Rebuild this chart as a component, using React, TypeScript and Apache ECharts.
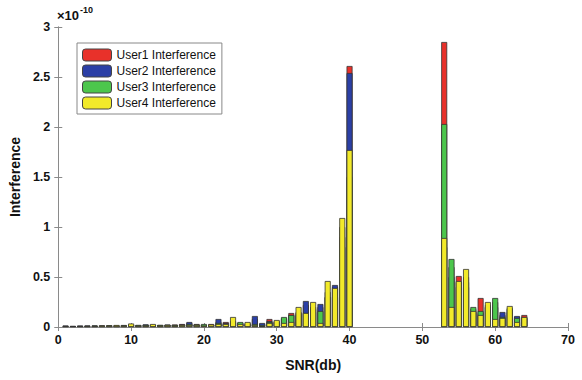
import React, { useEffect, useRef } from "react";
import * as echarts from "echarts";

// SNR (db) positions of the bars
const snr = [
  1, 2, 3, 4, 5, 6, 7, 8, 9, 10, 11, 12, 13, 14, 15, 16, 17, 18, 19, 20,
  21, 22, 23, 24, 25, 26, 27, 28, 29, 30, 31, 32, 33, 34, 35, 36, 37, 38, 39, 40,
  53, 54, 55, 56, 57, 58, 59, 60, 61, 62, 63, 64,
];
// Interference values in units of 1e-10
const user1 = [
  0.01, 0.01, 0.01, 0.012, 0.01, 0.015, 0.012, 0.015, 0.015, 0.02, 0.015, 0.02, 0.02, 0.02, 0.02, 0.025, 0.03, 0.04, 0.03, 0.02,
  0.03, 0.05, 0.05, 0.06, 0.04, 0.03, 0.08, 0.03, 0.08, 0.05, 0.08, 0.14, 0.15, 0.22, 0.2, 0.2, 0.3, 0.4, 0.9, 2.61,
  2.85, 0.6, 0.51, 0.5, 0.18, 0.29, 0.22, 0.25, 0.12, 0.18, 0.1, 0.12,
];
const user2 = [
  0.015, 0.01, 0.015, 0.015, 0.015, 0.015, 0.018, 0.015, 0.02, 0.02, 0.02, 0.027, 0.02, 0.02, 0.025, 0.02, 0.025, 0.05, 0.02, 0.02,
  0.02, 0.08, 0.04, 0.05, 0.04, 0.04, 0.11, 0.04, 0.06, 0.06, 0.09, 0.12, 0.14, 0.26, 0.18, 0.23, 0.35, 0.42, 1.0, 2.54,
  0.8, 0.5, 0.45, 0.4, 0.15, 0.14, 0.2, 0.2, 0.15, 0.15, 0.11, 0.1,
];
const user3 = [
  0.01, 0.01, 0.01, 0.01, 0.015, 0.012, 0.015, 0.015, 0.015, 0.02, 0.02, 0.02, 0.02, 0.02, 0.02, 0.02, 0.02, 0.03, 0.025, 0.03,
  0.02, 0.04, 0.03, 0.04, 0.05, 0.03, 0.03, 0.02, 0.05, 0.05, 0.1, 0.12, 0.12, 0.14, 0.15, 0.16, 0.3, 0.3, 0.8, 1.5,
  2.03, 0.68, 0.4, 0.45, 0.2, 0.16, 0.2, 0.29, 0.1, 0.19, 0.09, 0.09,
];
const user4 = [
  0.01, 0.008, 0.01, 0.012, 0.012, 0.015, 0.015, 0.02, 0.015, 0.035, 0.015, 0.015, 0.03, 0.015, 0.02, 0.015, 0.02, 0.02, 0.02, 0.015,
  0.025, 0.03, 0.03, 0.1, 0.03, 0.05, 0.02, 0.01, 0.04, 0.07, 0.04, 0.05, 0.2, 0.14, 0.25, 0.04, 0.46, 0.39, 1.09, 1.77,
  0.89, 0.2, 0.46, 0.58, 0.16, 0.12, 0.25, 0.08, 0.09, 0.21, 0.05, 0.1,
];
const names = ["User1 Interference", "User2 Interference", "User3 Interference", "User4 Interference"];
const colors = ["#e8312a", "#2b3fa6", "#4cc64c", "#f2ea2a"];
const xTicks = { min: 0, max: 70, interval: 10 };
const yTicks = { min: 0, max: 3, interval: 0.5 };

export default function App() {
  const ref = useRef<HTMLDivElement>(null);
  useEffect(() => {
    document.body.style.margin = "0";
    const chart = echarts.init(ref.current!, null, { renderer: "svg" });
    const all = [user1, user2, user3, user4];
    const font = "Arial, Liberation Sans";
    const labelStyle = { color: "#111", fontWeight: "bold" as const, fontSize: 12.5, fontFamily: font };
    const axisLine = { show: true, lineStyle: { color: "#8a8a8a", width: 1 } };
    const tick = { show: true, inside: true, length: 4, lineStyle: { color: "#8a8a8a" } };
    chart.setOption({
      animation: false,
      backgroundColor: "#fff",
      grid: { left: 57, right: 14, top: 27, bottom: 53 },
      legend: {
        orient: "vertical",
        left: 77,
        top: 43,
        padding: [5, 6, 4, 5],
        itemGap: 2,
        itemWidth: 29,
        itemHeight: 12,
        borderColor: "#888",
        borderWidth: 1,
        backgroundColor: "#fff",
        textStyle: { fontSize: 12, lineHeight: 14, color: "#111", fontFamily: font },
        data: names,
        itemStyle: { borderColor: "#444", borderWidth: 1 },
      },
      graphic: [
        {
          type: "text",
          left: 57,
          top: 9,
          style: { text: "×10", fontSize: 13, fontWeight: "bold", fill: "#111", fontFamily: font },
        },
        {
          type: "text",
          left: 80,
          top: 5,
          style: { text: "-10", fontSize: 9, fontWeight: "bold", fill: "#111", fontFamily: font },
        },
      ],
      xAxis: [
        {
          type: "value",
          ...xTicks,
          name: "SNR(db)",
          nameLocation: "middle",
          nameGap: 31,
          nameTextStyle: { fontSize: 14, fontWeight: "bold", color: "#111", fontFamily: font },
          axisLine,
          axisTick: tick,
          axisLabel: { ...labelStyle, margin: 6 },
          splitLine: { show: false },
        },
        {
          type: "value",
          position: "top",
          ...xTicks,
          axisLine,
          axisTick: tick,
          axisLabel: { show: false },
          splitLine: { show: false },
        },
      ],
      yAxis: [
        {
          type: "value",
          ...yTicks,
          name: "Interference",
          nameLocation: "middle",
          nameGap: 33,
          nameTextStyle: { fontSize: 14, fontWeight: "bold", color: "#111", fontFamily: font },
          axisLine,
          axisTick: tick,
          axisLabel: { ...labelStyle, margin: 8 },
          splitLine: { show: false },
        },
        {
          type: "value",
          position: "right",
          ...yTicks,
          axisLine,
          axisTick: tick,
          axisLabel: { show: false },
          splitLine: { show: false },
        },
      ],
      series: names.map((n, k) => ({
        name: n,
        type: "bar",
        xAxisIndex: 0,
        yAxisIndex: 0,
        barWidth: 6,
        barGap: "-100%",
        z: 2 + k,
        itemStyle: { color: colors[k], borderColor: "#333", borderWidth: 0.8 },
        data: snr.map((x, i) => [x, all[k][i]]),
      })),
    });
    return () => chart.dispose();
  }, []);
  return <div ref={ref} style={{ width: 582, height: 380 }} />;
}
